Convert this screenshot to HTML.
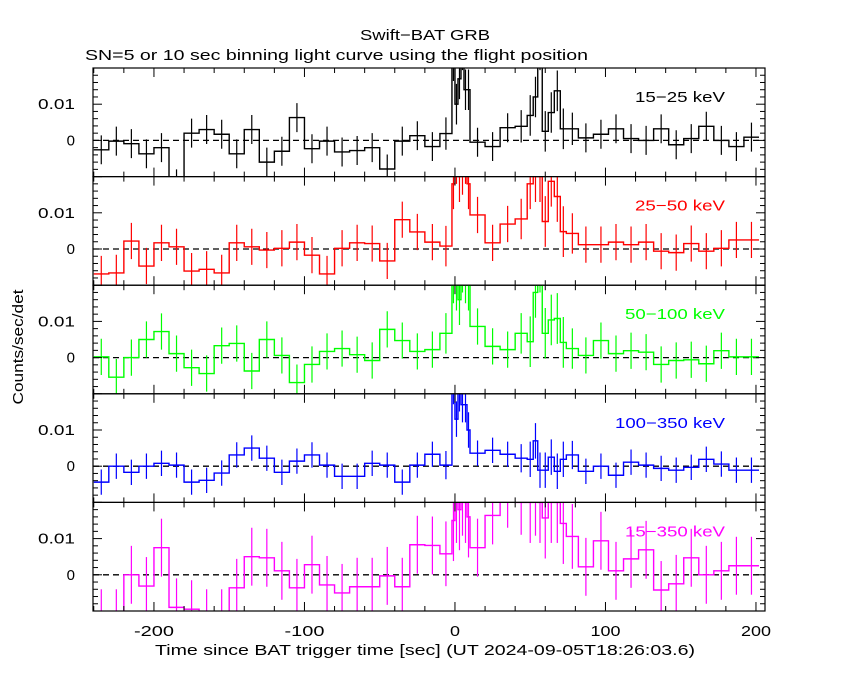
<!DOCTYPE html>
<html><head><meta charset="utf-8"><style>
body{margin:0;background:#fff}
svg text{font-family:"Liberation Sans","DejaVu Sans",sans-serif;font-size:15px}
</style></head><body>
<svg id="chart" width="850" height="680" xmlns="http://www.w3.org/2000/svg">
<text x="425" y="40" text-anchor="middle" textLength="130" lengthAdjust="spacingAndGlyphs">Swift−BAT GRB</text>
<text x="85" y="60" textLength="503" lengthAdjust="spacingAndGlyphs">SN=5 or 10 sec binning light curve using the flight position</text>
<text transform="translate(23,347) rotate(-90)" text-anchor="middle" textLength="115" lengthAdjust="spacingAndGlyphs">Counts/sec/det</text>
<text x="155" y="655" textLength="540" lengthAdjust="spacingAndGlyphs">Time since BAT trigger time [sec] (UT 2024-09-05T18:26:03.6)</text>
<g id="panels"></g>
</svg>
<script>
const edges=[-240,-230,-220,-210,-200,-190,-180,-170,-160,-150,-140,-130,-120,-110,-100,-90,-80,-70,-60,-50,-40,-30,-20,-10,-2,0,2,4,6,8,10,20,30,40,48,52,55,58,62,66,70,74,82,92,102,112,122,132,142,152,162,172,182,192,202];
const bands=["15−25 keV","25−50 keV","50−100 keV","100−350 keV","15−350 keV"];
const colors=["#000000","#ff0000","#00ff00","#0000ff","#ff00ff"];
const errBase=[4,5,5,3.5,8];
const v1=[-2.6,-0.2,-0.9,-3.7,-2.0,-12,2.0,3.0,1.7,-3.7,3.0,-6.0,-3.0,6.3,-2.3,-0.2,-3.2,-2.8,-2.0,-7.9,-0.2,1.3,-1.7,1.9,22,10,17,25,14,14,-0.5,-1.7,3.5,3.9,6.9,12,25,2.5,7.7,13.7,3.2,3.2,0.7,1.7,3.2,0.5,0,3.2,-1.2,0.5,3.9,0,-1.7,0.9];
const v2=[-6.9,-6.6,2.2,-4.7,1.7,0.6,-6.1,-5.6,-6.6,1.7,0.6,-0.3,0.2,1.9,-1.7,-6.9,0.2,1.7,1.5,-3.3,8.1,4.7,1.9,0.8,18,25,20,22,25,18,9.4,1.7,6.9,8.3,18,20,20,7.6,18.7,14.5,4.8,4.3,1.2,1.2,1.9,1.2,1.9,-0.6,-1.0,1.5,-0.6,0.2,2.5,2.5];
const v3=[0.2,-5.4,0,5,7.2,1.1,-2.8,-4.4,3.3,3.9,-3.7,5,0.6,-6.9,-1.9,1.7,2.5,0.8,-0.8,7.8,4.7,1.7,2.2,6.7,22,20,16,25,22,20,8.6,3.1,2.2,6.7,4.4,18,25,6.7,10.4,10.8,4.2,2.5,0.6,4.7,1.1,1.9,1.5,-1.9,-0.8,-0.6,-1.7,1.9,0.2,0.2];
const v4=[-4.4,0,-1.7,0,0.8,0.3,-4.4,-3.9,-1.9,3.1,5,2.2,-1.7,1.4,3.1,0.3,-2.8,-2.8,0.8,0.3,-4.4,0.3,3.3,0.3,22,13,20,17,17,10,3.6,4.4,3.3,2.2,1.9,7,-1.1,-1.1,2.5,-1.4,1.9,3.1,-1.4,0,-2.5,1.1,0.3,-0.6,-1.1,-0.3,1.9,0.6,-1.1,-1.1];
const v5=[-12,-12,0,-3.1,7.5,-9,-9.5,-12,-12,-3.6,5,4.7,1.1,-3.6,2.8,-2.8,-5,-3.3,-3.3,-0.3,-3.3,8.3,8.1,5.8,15,20,18,22,20,16,7.5,16.4,21,20,20,22,20,15.7,20,20,14.2,10.6,2.2,9.4,1.1,4.4,6.9,-4.2,-2.5,4.7,0,1.1,2.5,2.5];
const series=[v1,v2,v3,v4,v5];
const xTicks=[-200,-100,0,100,200];
const yTickLabels=["0","0.01"];

const NS="http://www.w3.org/2000/svg";
const X0=93,X1=765,T0=-240.5,T1=206;
const xs=t=>X0+(t-T0)/(T1-T0)*(X1-X0);
const PH=108.6,TOP=68;
const g=document.getElementById('panels');
function mk(tag,attrs,parent){const e=document.createElementNS(NS,tag);for(const k in attrs)e.setAttribute(k,attrs[k]);(parent||g).appendChild(e);return e;}
series.forEach((vals,p)=>{
  const top=TOP+p*PH,bot=top+PH;
  const ys=v=>bot-(v*0.001+0.01)/0.03*PH;
  const pg=mk('g',{});
  
  
  const cp=mk('clipPath',{id:'c'+p},pg);
  mk('rect',{x:X0,y:top,width:X1-X0,height:PH},cp);
  const z=mk('line',{x1:X0,x2:X1,y1:ys(0),y2:ys(0),stroke:'#000','stroke-dasharray':'6,4','stroke-width':1.3},pg);
  
  
  const dg=mk('g',{'clip-path':'url(#c'+p+')'},pg);
  let d='';
  vals.forEach((v,i)=>{
    const a=xs(edges[i]),b=xs(edges[i+1]),y=ys(v);
    d+=(i?'L':'M')+a+','+y+'L'+b+','+y;
    const w=edges[i+1]-edges[i];
    const e=errBase[p]*Math.min(1.4,Math.sqrt(10/w));
    const c=(a+b)/2;
    const eb=mk('line',{x1:c,x2:c,y1:ys(v-e),y2:ys(v+e),stroke:colors[p],'stroke-width':1.2},dg);
    
    
  });
  const path=mk('path',{d:d,fill:'none',stroke:colors[p],'stroke-width':1.4},dg);
  
  
  const fr=mk('rect',{x:X0,y:top,width:X1-X0,height:PH,fill:'none',stroke:'#000','stroke-width':1.2},pg);
  
  
  for(let t=-240;t<=200;t+=20){
    const x=xs(t),L=(t%100===0)?9:5;
    mk('line',{x1:x,x2:x,y1:bot,y2:bot-L,stroke:'#000'},pg);
    mk('line',{x1:x,x2:x,y1:top,y2:top+L,stroke:'#000'},pg);
  }
  for(let v=-10;v<=20;v+=2){
    const y=ys(v),L=(v%10===0)?9:5;
    mk('line',{x1:X0,x2:X0+L,y1:y,y2:y,stroke:'#000'},pg);
    mk('line',{x1:X1,x2:X1-L,y1:y,y2:y,stroke:'#000'},pg);
  }
  yTickLabels.forEach((lab,i)=>{
    const tl=mk('text',{x:75,y:ys(i*10)+5,'text-anchor':'end'},pg);
    if(lab.length>1){tl.setAttribute('textLength','37');tl.setAttribute('lengthAdjust','spacingAndGlyphs');}
    tl.textContent=lab;
    
    
  });
  const bl=mk('text',{x:725,y:top+34,'text-anchor':'end',fill:colors[p],textLength:String(bands[p].length*10),lengthAdjust:'spacingAndGlyphs'},pg);
  bl.textContent=bands[p];
  
  
});
xTicks.forEach(t=>{
  const tl=mk('text',{x:xs(t),y:636,'text-anchor':'middle',textLength:String(String(t).length*10),lengthAdjust:'spacingAndGlyphs'});
  tl.textContent=t;
  
  
});
</script>
</body></html>
